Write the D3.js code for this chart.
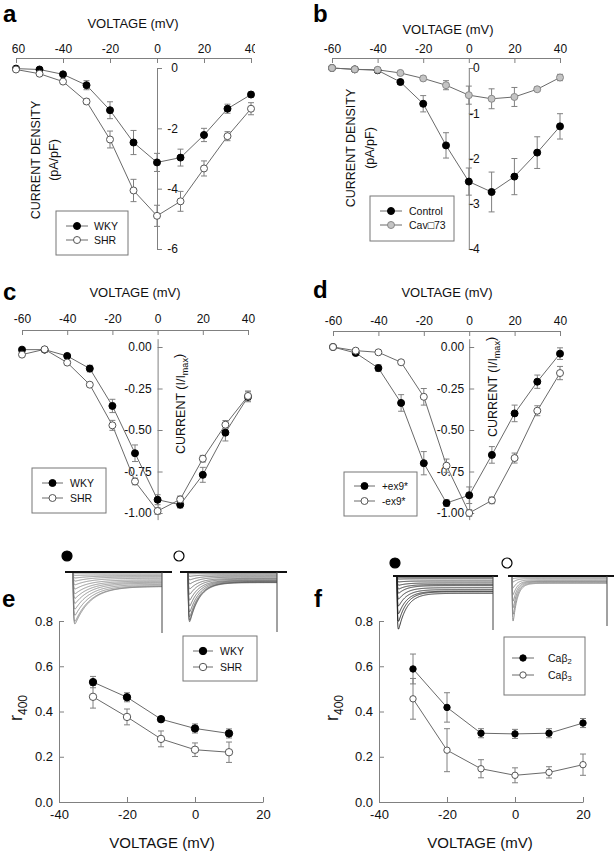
<!DOCTYPE html>
<html>
<head>
<meta charset="utf-8">
<script src="https://cdn.jsdelivr.net/npm/d3@7"></script>
<style>
  body { margin: 0; background: #fff; }
  text { font-family: Arial, "Liberation Sans", Helvetica, sans-serif; }
</style>
</head>
<body>
<svg id="fig" width="614" height="852"></svg>
<script>
// ---- data ----
var voltsIV = [-60, -50, -40, -30, -20, -10, 0, 10, 20, 30, 40];
var voltTicksIV = [-60, -40, -20, 0, 20, 40];
var densityTicksA = [0, -2, -4, -6];
var densityTicksB = [0, -1, -2, -3, -4];
var normTicks = [0, -0.25, -0.5, -0.75, -1];

// a: current density, WKY vs SHR
var wkyDensity = [-0.02, -0.05, -0.21, -0.57, -1.40, -2.47, -3.13, -2.97, -2.22, -1.35, -0.88];
var wkyDensityErr = [0.02, 0.03, 0.05, 0.15, 0.28, 0.40, 0.30, 0.28, 0.22, 0.15, 0.08];
var shrDensity = [-0.05, -0.19, -0.45, -1.11, -2.37, -4.06, -4.90, -4.42, -3.33, -2.26, -1.35];
var shrDensityErr = [0.02, 0.04, 0.05, 0.08, 0.28, 0.37, 0.35, 0.33, 0.25, 0.15, 0.20];

// b: current density, Control vs Cav73
var controlDensity = [0, -0.03, -0.05, -0.31, -0.79, -1.71, -2.51, -2.74, -2.40, -1.87, -1.29];
var controlDensityErr = [0.01, 0.02, 0.03, 0.05, 0.18, 0.28, 0.30, 0.44, 0.40, 0.35, 0.28];
var cavDensity = [0, -0.03, -0.04, -0.11, -0.23, -0.38, -0.60, -0.68, -0.64, -0.47, -0.21];
var cavDensityErr = [0.01, 0.01, 0.02, 0.03, 0.05, 0.10, 0.20, 0.22, 0.21, 0.05, 0.07];

// c: normalised current, WKY vs SHR
var wkyNorm = [-0.016, -0.016, -0.054, -0.13, -0.355, -0.64, -0.92, -0.95, -0.77, -0.516, -0.30];
var wkyNormErr = [0.01, 0.01, 0.01, 0.02, 0.04, 0.05, 0.03, 0.02, 0.045, 0.05, 0.03];
var shrNorm = [-0.046, -0.014, -0.094, -0.227, -0.472, -0.81, -0.988, -0.918, -0.673, -0.468, -0.295];
var shrNormErr = [0.01, 0.01, 0.01, 0.01, 0.03, 0.02, 0.02, 0.02, 0.02, 0.025, 0.03];

// d: normalised current, +ex9* vs -ex9*
var plusEx9 = [0, -0.036, -0.127, -0.337, -0.70, -0.94, -0.893, -0.65, -0.40, -0.209, -0.04];
var plusEx9Err = [0.005, 0.01, 0.02, 0.05, 0.07, 0.02, 0.05, 0.05, 0.05, 0.04, 0.035];
var minusEx9 = [0, -0.022, -0.032, -0.092, -0.30, -0.715, -1.0, -0.924, -0.669, -0.384, -0.157];
var minusEx9Err = [0.005, 0.005, 0.01, 0.01, 0.05, 0.04, 0.02, 0.02, 0.03, 0.03, 0.04];

// e, f: r400
var voltTicksR = [-40, -20, 0, 20];
var r400Ticks = [0, 0.2, 0.4, 0.6, 0.8];
var voltsE = [-30, -20, -10, 0, 10];
var wkyR400 = [0.53, 0.463, 0.366, 0.325, 0.303];
var wkyR400Err = [0.025, 0.02, 0.01, 0.02, 0.02];
var shrR400 = [0.465, 0.376, 0.279, 0.231, 0.22];
var shrR400Err = [0.05, 0.035, 0.035, 0.03, 0.045];
var voltsF = [-30, -20, -10, 0, 10, 20];
var beta2R400 = [0.588, 0.418, 0.304, 0.301, 0.304, 0.349];
var beta2R400Err = [0.066, 0.065, 0.02, 0.02, 0.02, 0.02];
var beta3R400 = [0.456, 0.229, 0.147, 0.118, 0.131, 0.165];
var beta3R400Err = [0.09, 0.095, 0.04, 0.033, 0.025, 0.047];

// example current traces (relative peak amplitude, fraction left at end)
var traceAmpWKY = [0.02, 0.06, 0.11, 0.17, 0.24, 0.32, 0.41, 0.5, 0.6, 0.71, 0.83, 0.95, 1.0];
var traceResWKY = [1, 0.8, 0.6, 0.5, 0.45, 0.42, 0.38, 0.35, 0.32, 0.3, 0.28, 0.26, 0.25];
var traceAmpSHR = [0.03, 0.08, 0.15, 0.23, 0.33, 0.44, 0.56, 0.68, 0.8, 0.9, 0.97, 1.0];
var traceResSHR = [0.9, 0.6, 0.45, 0.38, 0.33, 0.28, 0.25, 0.22, 0.2, 0.19, 0.18, 0.18];
var traceAmpB2 = [0.02, 0.05, 0.1, 0.16, 0.23, 0.31, 0.42, 0.55, 0.7, 0.85, 1.0];
var traceResB2 = [1, 0.9, 0.8, 0.7, 0.6, 0.5, 0.45, 0.4, 0.35, 0.3, 0.28];
var traceAmpB3 = [0.05, 0.12, 0.25, 0.4, 0.55, 0.7, 0.85, 1.0];
var traceResB3 = [0.5, 0.35, 0.25, 0.2, 0.16, 0.14, 0.13, 0.12];

var svg = d3.select('#fig');
var AXIS = '#808080';
var LINE = '#6a6a6a';

var markStyle = {
  filled: { fill: '#000', stroke: '#000' },
  open: { fill: '#fff', stroke: '#555' },
  gray: { fill: '#c4c4c4', stroke: '#888' }
};

function styleAxis(sel, size) {
  sel.attr('font-family', null).attr('font-size', size);
  sel.select('.domain').attr('stroke', AXIS);
  sel.selectAll('.tick line').attr('stroke', AXIS);
  sel.selectAll('.tick text').attr('fill', '#111');
}

function drawSeries(g, x, y, volts, series, r) {
  var line = d3.line()
    .x(function(d, i) { return x(volts[i]); })
    .y(function(d) { return y(d); });
  series.forEach(function(s) {
    g.append('path').datum(s.v)
      .attr('d', line).attr('fill', 'none')
      .attr('stroke', LINE).attr('stroke-width', 1);
  });
  series.forEach(function(s) {
    g.selectAll(null).data(s.v).enter().append('path')
      .attr('d', function(d, i) {
        var cx = x(volts[i]), y1 = y(d - s.e[i]), y2 = y(d + s.e[i]);
        return 'M' + (cx - 3) + ',' + y1 + 'H' + (cx + 3) +
               'M' + cx + ',' + y1 + 'V' + y2 +
               'M' + (cx - 3) + ',' + y2 + 'H' + (cx + 3);
      })
      .attr('fill', 'none').attr('stroke', AXIS).attr('stroke-width', 1);
  });
  series.forEach(function(s) {
    g.selectAll(null).data(s.v).enter().append('circle')
      .attr('cx', function(d, i) { return x(volts[i]); })
      .attr('cy', function(d) { return y(d); })
      .attr('r', r)
      .attr('fill', markStyle[s.style].fill)
      .attr('stroke', markStyle[s.style].stroke)
      .attr('stroke-width', 1);
  });
}

function drawLegend(g, lg, series, r) {
  g.append('rect')
    .attr('x', lg.x).attr('y', lg.y).attr('width', lg.w).attr('height', lg.h)
    .attr('fill', '#fff').attr('stroke', '#777').attr('stroke-width', 1);
  series.forEach(function(s, i) {
    var yy = lg.rows[i];
    g.append('line').attr('x1', lg.lx0).attr('x2', lg.lx1)
      .attr('y1', yy).attr('y2', yy).attr('stroke', LINE);
    g.append('circle').attr('cx', (lg.lx0 + lg.lx1) / 2).attr('cy', yy).attr('r', r)
      .attr('fill', markStyle[s.style].fill).attr('stroke', markStyle[s.style].stroke);
    var t = g.append('text').attr('x', lg.tx).attr('y', yy).attr('dy', '0.36em')
      .attr('font-size', lg.fs).attr('fill', '#111');
    t.append('tspan').text(s.name);
    if (s.sub) {
      t.append('tspan').attr('dy', '0.35em').attr('font-size', lg.fs * 0.72).text(s.sub);
    }
  });
}

function panelLetter(ch, x, y) {
  svg.append('text').attr('x', x).attr('y', y)
    .attr('font-size', 24).attr('font-weight', 'bold').attr('fill', '#000').text(ch);
}

function ivPanel(o) {
  var g = svg.append('g');
  if (o.clip) {
    svg.append('clipPath').attr('id', 'clip-' + o.id).append('rect')
      .attr('x', o.clip[0]).attr('y', 0).attr('width', o.clip[1] - o.clip[0]).attr('height', 852);
    g.attr('clip-path', 'url(#clip-' + o.id + ')');
  }
  var x = d3.scaleLinear().domain([-60, 40]).range(o.xr);
  var y0 = d3.scaleLinear().domain([o.yTicks[o.yTicks.length - 1], 0]).range(o.yr);
  var y = y0.copy().domain(o.yd).range([y0(o.yd[0]), y0(o.yd[1])]);

  var gx = g.append('g').attr('transform', 'translate(0,' + o.axisY + ')')
    .call(d3.axisTop(x).tickValues(voltTicksIV).tickSize(-5).tickSizeOuter(0)
      .tickPadding(o.xPad).tickFormat(function(d) { return String(d); }));
  styleAxis(gx, 12);

  var gy = g.append('g').attr('transform', 'translate(' + x(0) + ',0)')
    .call(d3.axisRight(y).tickValues(o.yTicks).tickSize(5).tickSizeOuter(0)
      .tickFormat(o.fmt));
  styleAxis(gy, 12);
  gy.selectAll('.tick text').attr('text-anchor', 'end').attr('x', o.labelDx);

  g.append('text').attr('x', o.title[0]).attr('y', o.title[1])
    .attr('text-anchor', 'middle').attr('font-size', 13).attr('fill', '#111')
    .text('VOLTAGE (mV)');

  o.yLabel.forEach(function(lab) {
    var t = g.append('text')
      .attr('transform', 'translate(' + lab.x + ',' + lab.y + ') rotate(-90)')
      .attr('text-anchor', 'middle').attr('dy', '0.36em')
      .attr('font-size', 12.5).attr('fill', '#111');
    t.append('tspan').text(lab.text);
    if (lab.sub) {
      t.append('tspan').attr('dy', '0.35em').attr('font-size', 9).text(lab.sub);
      t.append('tspan').attr('dy', '-0.35em').text(')');
    }
  });

  drawSeries(g, x, y, voltsIV, o.series, 3.5);
  drawLegend(g, o.legend, o.series, 3.5);
  panelLetter(o.id, o.letter[0], o.letter[1]);
}

function r400Panel(o) {
  var g = svg.append('g');
  var x = d3.scaleLinear().domain([-40, 20]).range(o.xr);
  var y = d3.scaleLinear().domain([0, 0.8]).range([802, 621]);

  var gx = g.append('g').attr('transform', 'translate(0,802)')
    .call(d3.axisBottom(x).tickValues(voltTicksR).tickSize(-5).tickSizeOuter(0)
      .tickPadding(8).tickFormat(function(d) { return String(d); }));
  styleAxis(gx, 13);

  var gy = g.append('g').attr('transform', 'translate(' + o.xr[0] + ',0)')
    .call(d3.axisLeft(y).tickValues(r400Ticks).tickSize(-5).tickSizeOuter(0)
      .tickPadding(6).tickFormat(function(d) { return d.toFixed(1); }));
  styleAxis(gy, 13);

  g.append('text').attr('x', o.title).attr('y', 848)
    .attr('text-anchor', 'middle').attr('font-size', 15).attr('fill', '#111')
    .text('VOLTAGE (mV)');

  var t = g.append('text')
    .attr('transform', 'translate(' + o.yLabelX + ',708) rotate(-90)')
    .attr('text-anchor', 'middle').attr('dy', '0.36em').attr('fill', '#111');
  t.append('tspan').attr('font-size', 18).text('r');
  t.append('tspan').attr('font-size', 12).attr('dy', '0.4em').text('400');

  drawSeries(g, x, y, o.volts, o.series, o.r);
  drawLegend(g, o.legend, o.series, o.r);
  panelLetter(o.id, o.letter[0], o.letter[1]);
}

function drawTraces(o) {
  var g = svg.append('g');
  var tx = d3.scaleLinear().domain([0, 450]).range([o.x0, o.x1]);
  var cy = d3.scaleLinear().domain([0, 1]).range([o.base, o.peak]);
  var times = d3.range(0, 451, 1.5);
  o.amp.forEach(function(a, i) {
    var res = o.res[i];
    var line = d3.line()
      .x(function(t) { return tx(t); })
      .y(function(t) {
        var act = 1 - Math.exp(-t / o.rise);
        return cy(a * act * (res + (1 - res) * Math.exp(-t / o.tau)));
      });
    g.append('path').datum(times).attr('d', line)
      .attr('fill', 'none').attr('stroke', o.color).attr('stroke-width', o.sw);
  });
  g.append('line').attr('x1', o.bx0).attr('x2', o.bx1)
    .attr('y1', o.base).attr('y2', o.base)
    .attr('stroke', '#111').attr('stroke-width', 2);
  g.append('line').attr('x1', o.x1).attr('x2', o.x1)
    .attr('y1', o.base).attr('y2', o.tail)
    .attr('stroke', '#444').attr('stroke-width', 1);
  g.append('circle').attr('cx', o.sym[0]).attr('cy', o.sym[1]).attr('r', 5)
    .attr('fill', o.symFill).attr('stroke', '#000').attr('stroke-width', 1.2);
}

// ---- panels ----
ivPanel({
  id: 'a', xr: [16, 251], yd: [-6, 0], yr: [249, 68], yTicks: densityTicksA,
  fmt: function(d) { return String(d); }, labelDx: 21, axisY: 58, xPad: 5,
  clip: [12, 255], title: [133, 28], letter: [3, 22],
  yLabel: [{ text: 'CURRENT DENSITY', x: 35, y: 160 }, { text: '(pA/pF)', x: 53, y: 160 }],
  series: [
    { name: 'WKY', v: wkyDensity, e: wkyDensityErr, style: 'filled' },
    { name: 'SHR', v: shrDensity, e: shrDensityErr, style: 'open' }
  ],
  legend: { x: 56, y: 211, w: 72, h: 44, rows: [226, 240], lx0: 66, lx1: 88, tx: 94, fs: 10.5 }
});

ivPanel({
  id: 'b', xr: [332, 560], yd: [-4, 0], yr: [249, 68], yTicks: densityTicksB,
  fmt: function(d) { return String(d); }, labelDx: 11, axisY: 58, xPad: 5,
  title: [448, 34], letter: [313, 22],
  yLabel: [{ text: 'CURRENT DENSITY', x: 350, y: 148 }, { text: '(pA/pF)', x: 369, y: 148 }],
  series: [
    { name: 'Control', v: controlDensity, e: controlDensityErr, style: 'filled' },
    { name: 'Cav\u25A173', v: cavDensity, e: cavDensityErr, style: 'gray' }
  ],
  legend: { x: 370, y: 196, w: 84, h: 45, rows: [211, 225], lx0: 380, lx1: 402, tx: 409, fs: 10.5 }
});

ivPanel({
  id: 'c', xr: [22, 248], yd: [-1.04, 0.05], yr: [513, 347], yTicks: normTicks,
  fmt: function(d) { return d.toFixed(2); }, labelDx: -6, axisY: 330, xPad: 7,
  title: [135, 297], letter: [3, 300],
  yLabel: [{ text: 'CURRENT (I/I', sub: 'max', x: 180, y: 404 }],
  series: [
    { name: 'WKY', v: wkyNorm, e: wkyNormErr, style: 'filled' },
    { name: 'SHR', v: shrNorm, e: shrNormErr, style: 'open' }
  ],
  legend: { x: 32, y: 468, w: 74, h: 45, rows: [483, 498], lx0: 42, lx1: 63, tx: 70, fs: 10.5 }
});

ivPanel({
  id: 'd', xr: [333, 560], yd: [-1.04, 0.05], yr: [513, 347], yTicks: normTicks,
  fmt: function(d) { return d.toFixed(2); }, labelDx: -5, axisY: 331, xPad: 6,
  title: [447, 297], letter: [313, 298],
  yLabel: [{ text: 'CURRENT (I/I', sub: 'max', x: 492, y: 387 }],
  series: [
    { name: '+ex9*', v: plusEx9, e: plusEx9Err, style: 'filled' },
    { name: '-ex9*', v: minusEx9, e: minusEx9Err, style: 'open' }
  ],
  legend: { x: 344, y: 472, w: 73, h: 44, rows: [486, 501], lx0: 354, lx1: 375, tx: 382, fs: 10 }
});

r400Panel({
  id: 'e', xr: [59, 263], volts: voltsE, title: 162, yLabelX: 16, letter: [2, 607], r: 3.7,
  series: [
    { name: 'WKY', v: wkyR400, e: wkyR400Err, style: 'filled' },
    { name: 'SHR', v: shrR400, e: shrR400Err, style: 'open' }
  ],
  legend: { x: 183, y: 636, w: 74, h: 45, rows: [651, 667], lx0: 193, lx1: 213, tx: 220, fs: 10.5 }
});

r400Panel({
  id: 'f', xr: [379, 583], volts: voltsF, title: 480, yLabelX: 332, letter: [314, 607], r: 3.2,
  series: [
    { name: 'Ca\u03B2', sub: '2', v: beta2R400, e: beta2R400Err, style: 'filled' },
    { name: 'Ca\u03B2', sub: '3', v: beta3R400, e: beta3R400Err, style: 'open' }
  ],
  legend: { x: 504, y: 637, w: 81, h: 58, rows: [658, 675], lx0: 512, lx1: 534, tx: 548, fs: 10.5 }
});

// example traces above e and f
drawTraces({ amp: traceAmpWKY, res: traceResWKY, x0: 73, x1: 162, base: 572, peak: 630,
  tau: 80, rise: 2.5, color: '#777', sw: 0.8, bx0: 65, bx1: 172, tail: 633,
  sym: [67, 556], symFill: '#000' });
drawTraces({ amp: traceAmpSHR, res: traceResSHR, x0: 188, x1: 277, base: 572, peak: 631,
  tau: 50, rise: 2.5, color: '#555', sw: 0.8, bx0: 180, bx1: 287, tail: 632,
  sym: [179, 556], symFill: '#fff' });
drawTraces({ amp: traceAmpB2, res: traceResB2, x0: 397, x1: 493, base: 576, peak: 638,
  tau: 40, rise: 2, color: '#222', sw: 0.9, bx0: 393, bx1: 498, tail: 630,
  sym: [395, 563], symFill: '#000' });
drawTraces({ amp: traceAmpB3, res: traceResB3, x0: 512, x1: 607, base: 576, peak: 637,
  tau: 20, rise: 2, color: '#888', sw: 0.9, bx0: 508, bx1: 614, tail: 626,
  sym: [507, 563], symFill: '#fff' });
</script>
</body>
</html>
